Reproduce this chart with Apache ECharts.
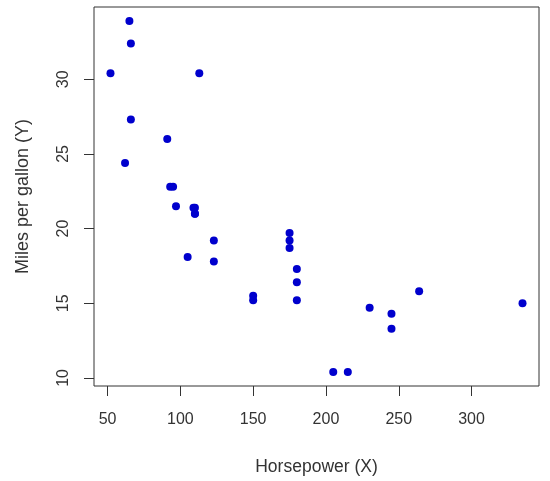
<!DOCTYPE html>
<html lang="en">
<head>
    <meta charset="UTF-8">
    <title>Horsepower vs MPG</title>
    <style>
        body { margin: 0; background: #fff; }
        #chart { width: 550px; height: 481px; }
    </style>
</head>
<body>
    <div id="chart"></div>
    <script src="https://cdn.jsdelivr.net/npm/echarts@6.0.0/dist/echarts.min.js"></script>
    <script>
        // mtcars: horsepower and miles per gallon
        const horsepower = [110, 110, 93, 110, 175, 105, 245, 62, 95, 123, 123, 180, 180, 180, 205, 215,
                            230, 66, 52, 65, 97, 150, 150, 245, 175, 66, 91, 113, 264, 175, 335, 109];
        const mpg = [21.0, 21.0, 22.8, 21.4, 18.7, 18.1, 14.3, 24.4, 22.8, 19.2, 17.8, 16.4, 17.3, 15.2, 10.4, 10.4,
                     14.7, 32.4, 30.4, 33.9, 21.5, 15.5, 15.2, 13.3, 19.2, 27.3, 26.0, 30.4, 15.8, 19.7, 15.0, 21.4];
        const xTicks = [50, 100, 150, 200, 250, 300];
        const yTicks = [10, 15, 20, 25, 30];

        const points = horsepower.map((h, i) => [h, mpg[i]]);
        const font = 'Liberation Sans, Arial, sans-serif';
        const ink = '#333';

        const chart = echarts.init(document.getElementById('chart'));
        chart.setOption({
            animation: false,
            grid: {
                left: 94, right: 11, top: 7, bottom: 95,
                show: true, borderColor: ink, borderWidth: 1
            },
            xAxis: {
                type: 'value',
                min: 40.68, max: 346.32,
                name: 'Horsepower (X)',
                nameLocation: 'middle',
                nameGap: 72,
                nameTextStyle: { fontFamily: font, fontSize: 17.5, color: ink },
                axisLine: { show: false },
                splitLine: { show: false },
                axisTick: { show: true, length: 10, lineStyle: { color: ink }, customValues: xTicks },
                axisLabel: { customValues: xTicks, fontFamily: font, fontSize: 16, color: ink, margin: 26 }
            },
            yAxis: {
                type: 'value',
                min: 9.46, max: 34.84,
                name: 'Miles per gallon (Y)',
                nameLocation: 'middle',
                nameGap: 62,
                nameTextStyle: { fontFamily: font, fontSize: 18, color: ink },
                axisLine: { show: false },
                splitLine: { show: false },
                axisTick: { show: true, length: 10, lineStyle: { color: ink }, customValues: yTicks },
                axisLabel: { customValues: yTicks, rotate: 90, fontFamily: font, fontSize: 16, color: ink, margin: 22 }
            },
            series: [{
                type: 'scatter',
                data: points,
                symbolSize: 8,
                itemStyle: { color: '#0000cd', opacity: 1 }
            }]
        });
    </script>
</body>
</html>
